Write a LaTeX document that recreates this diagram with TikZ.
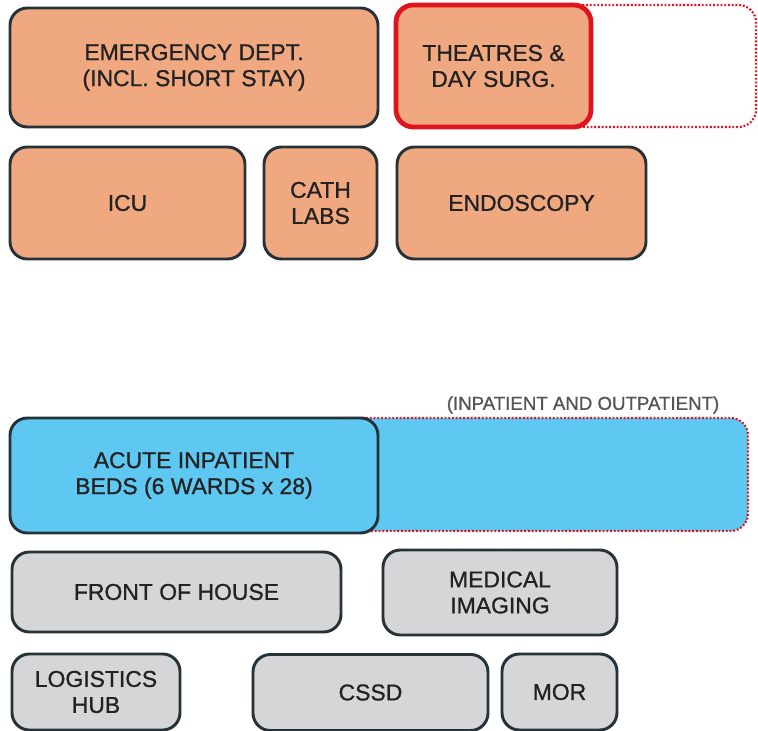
\documentclass[tikz,border=0pt]{standalone}
\usepackage{fontspec}
\setmainfont{Liberation Sans}
\newfontfamily\deptfont{Liberation Sans}[FakeBold=0.9]
\definecolor{orangefill}{HTML}{F0A880}
\definecolor{bluefill}{HTML}{5EC8F2}
\definecolor{grayfill}{HTML}{D6D6D8}
\definecolor{edgedark}{HTML}{263238}
\definecolor{txtdark}{HTML}{222222}
\definecolor{redline}{HTML}{E0141E}
\definecolor{labelgray}{HTML}{555555}
\begin{document}
\begin{tikzpicture}[x=0.75pt,y=-0.75pt,
  dept/.style={draw=edgedark,line width=2.2pt,rounded corners=13pt,align=center,
    text=txtdark,font=\deptfont\fontsize{17.2}{19.5}\selectfont,inner sep=0pt},
  hot/.style={dept,fill=orangefill},
  ward/.style={dept,fill=bluefill},
  support/.style={dept,fill=grayfill},
  redbox/.style={draw=redline,line width=3.6pt},
  future/.style={draw=redline,line width=1.6pt,dash pattern=on 1.4pt off 1.4pt,rounded corners=13pt},
  note/.style={text=labelgray,font=\deptfont\fontsize{14}{16}\selectfont,inner sep=0pt}]
\useasboundingbox (0,0) rectangle (758,731);
% theatres expansion outline
\coordinate (tA) at (560,5);
\coordinate (tB) at (756,5);
\coordinate (tC) at (756,127);
\coordinate (tD) at (560,127);
\draw[future] (tA) -- (tB) -- (tC) -- (tD);
% ward expansion
\coordinate (wA) at (340,418);
\coordinate (wB) at (748,418);
\coordinate (wC) at (748,531);
\coordinate (wD) at (340,531);
\fill[bluefill,rounded corners=13pt] (wA) -- (wB) -- (wC) -- (wD) -- cycle;
\draw[future] (wA) -- (wB) -- (wC) -- (wD);
% top block
\node[hot,minimum width=368pt*0.75,minimum height=119pt*0.75] (ed) at (194,67.5) {EMERGENCY DEPT.\\(INCL. SHORT STAY)};
\node[hot,redbox,rounded corners=13pt,minimum width=195pt*0.75,minimum height=122pt*0.75] (th) at (493.5,66) {THEATRES \&\\DAY SURG.};
\node[hot,minimum width=235pt*0.75,minimum height=112pt*0.75] (icu) at (127.5,203) {ICU};
\node[hot,minimum width=113pt*0.75,minimum height=112pt*0.75] (cath) at (320.5,203) {CATH\\LABS};
\node[hot,minimum width=249pt*0.75,minimum height=112pt*0.75] (endo) at (521.5,203) {ENDOSCOPY};
% wards
\node[note] (io) at (583,405) {(INPATIENT AND OUTPATIENT)};
\node[ward,minimum width=368pt*0.75,minimum height=115pt*0.75] (acute) at (194,475.5) {ACUTE INPATIENT\\BEDS (6 WARDS x 28)};
% support
\node[support,minimum width=329pt*0.75,minimum height=80pt*0.75] (foh) at (176.5,592) {FRONT OF HOUSE};
\node[support,minimum width=234pt*0.75,minimum height=85pt*0.75] (mi) at (500,592.5) {MEDICAL\\IMAGING};
\node[support,minimum width=168pt*0.75,minimum height=76pt*0.75] (log) at (96,692) {LOGISTICS\\HUB};
\node[support,minimum width=235pt*0.75,minimum height=76pt*0.75] (cssd) at (370.5,692.5) {CSSD};
\node[support,minimum width=115pt*0.75,minimum height=76pt*0.75] (mor) at (559.5,692) {MOR};
\end{tikzpicture}
\end{document}
